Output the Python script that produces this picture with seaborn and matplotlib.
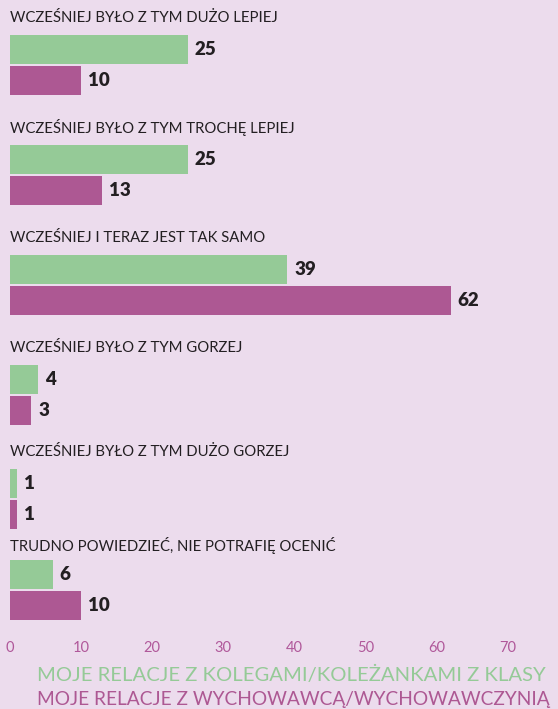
import matplotlib
matplotlib.use("Agg")
import matplotlib.pyplot as plt
import seaborn as sns
import pandas as pd

categories = [
    "WCZEŚNIEJ BYŁO Z TYM DUŻO LEPIEJ",
    "WCZEŚNIEJ BYŁO Z TYM TROCHĘ LEPIEJ",
    "WCZEŚNIEJ I TERAZ JEST TAK SAMO",
    "WCZEŚNIEJ BYŁO Z TYM GORZEJ",
    "WCZEŚNIEJ BYŁO Z TYM DUŻO GORZEJ",
    "TRUDNO POWIEDZIEĆ, NIE POTRAFIĘ OCENIĆ",
]
series = [
    "MOJE RELACJE Z KOLEGAMI/KOLEŻANKAMI Z KLASY",
    "MOJE RELACJE Z WYCHOWAWCĄ/WYCHOWAWCZYNIĄ",
]
classmates = [25, 25, 39, 4, 1, 6]
teacher = [10, 13, 62, 3, 1, 10]
xticks = [0, 10, 20, 30, 40, 50, 60, 70]

BG = "#ecdced"
GREEN = "#95ca97"
MAGENTA = "#ad5893"
DARK = "#231f22"
TICK = "#b0589a"

sns.set_style("white")
plt.rcParams["font.family"] = ["Lato", "DejaVu Sans"]

rows = []
for c, a, b in zip(categories, classmates, teacher):
    rows.append({"cat": c, "series": series[0], "value": a})
    rows.append({"cat": c, "series": series[1], "value": b})
df = pd.DataFrame(rows)

W, H = 558, 709
fig = plt.figure(figsize=(W / 100, H / 100), dpi=100)
fig.patch.set_facecolor(BG)

tops = [35, 145, 255, 365, 469, 560]
label_y = [18, 128, 238, 348, 452, 546]
gh = 60
w = 0.905
left_px = 10
x_max = 548 / 7.11

palette = {series[0]: GREEN, series[1]: MAGENTA}

cat_texts = []
for i, cat in enumerate(categories):
    ax = fig.add_axes([left_px / W, 1 - (tops[i] + gh) / H, 548 / W, gh / H])
    ax.set_facecolor("none")
    sub = df[df["cat"] == cat]
    sns.barplot(data=sub, x="value", y="series", hue="series", palette=palette,
                orient="h", width=w, legend=False, ax=ax, saturation=1,
                linewidth=0)
    ax.set_xlim(0, x_max)
    ax.set_ylim(1 + w / 2, -w / 2)
    for cont in ax.containers:
        ax.bar_label(cont, padding=5, fontsize=13.5, fontweight="heavy", color=DARK)
    for s in ax.spines.values():
        s.set_visible(False)
    ax.set_ylabel("")
    ax.set_xlabel("")
    ax.set_yticks([])
    if i == len(categories) - 1:
        ax.set_xticks(xticks)
        ax.set_xticklabels([str(t) for t in xticks], color=TICK, fontsize=10.5)
        ax.tick_params(axis="x", length=0, pad=15)
    else:
        ax.set_xticks([])
    t = fig.text(left_px / W, 1 - label_y[i] / H, cat, fontsize=11.5, color=DARK,
                 va="center", ha="left")
    cat_texts.append(t)

leg1 = fig.text(37 / W, 1 - 675 / H, series[0], color=GREEN, fontsize=14, va="center", ha="left")
leg2 = fig.text(37 / W, 1 - 700 / H, series[1], color=MAGENTA, fontsize=14, va="center", ha="left")

# fit text widths to the reference layout
fig.canvas.draw()
r = fig.canvas.get_renderer()
def width(t):
    return t.get_window_extent(r).width

k = 268 / width(cat_texts[0])
for t in cat_texts:
    t.set_fontsize(11.5 * k)
leg1.set_fontsize(14 * 508 / width(leg1))
leg2.set_fontsize(14 * 515 / width(leg2))

fig.savefig("out.png", dpi=100, facecolor=BG)
